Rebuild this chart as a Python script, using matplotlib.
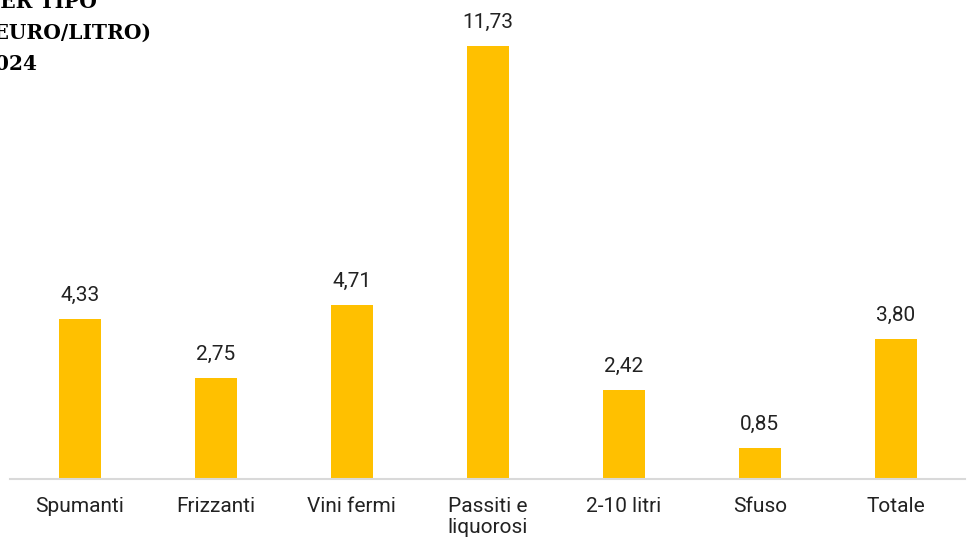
import matplotlib.pyplot as plt

categorie = ['Spumanti', 'Frizzanti', 'Vini fermi', 'Passiti e\nliquorosi',
             '2-10 litri', 'Sfuso', 'Totale']
prezzi = [4.33, 2.75, 4.71, 11.73, 2.42, 0.85, 3.80]
etichette = ['4,33', '2,75', '4,71', '11,73', '2,42', '0,85', '3,80']

plt.rcParams['font.family'] = ['Roboto', 'DejaVu Sans']

fig = plt.figure(figsize=(9.77, 5.44), dpi=100)
ax = fig.add_axes([10 / 977, 1 - 479 / 544, 955 / 977, 479 / 544])

x = range(len(categorie))
ax.bar(x, prezzi, width=0.31, color='#FFC000', zorder=2)

for xi, v, lab in zip(x, prezzi, etichette):
    ax.annotate(lab, (xi, v), xytext=(0, 10), textcoords='offset points',
                ha='center', va='bottom', fontsize=15, color='#222222')

ax.set_xlim(-0.515, 6.51)
ax.set_ylim(0, 479 / 36.9)
ax.set_xticks(list(x))
ax.set_xticklabels(categorie, fontsize=15, color='#222222', linespacing=1.15)
ax.tick_params(axis='x', length=0, pad=13)
ax.set_yticks([])

for s in ['top', 'left', 'right']:
    ax.spines[s].set_visible(False)
ax.spines['bottom'].set_color('#d9d9d9')
ax.spines['bottom'].set_linewidth(1.5)

# titolo tagliato sul bordo sinistro
titolo = dict(fontsize=14.5, fontweight='bold', family='DejaVu Serif',
              ha='right', va='center', color='black')
fig.text(97 / 977, 1 - 2 / 544, 'PREZZI MEDI PER TIPO', **titolo)
fig.text(151 / 977, 1 - 33 / 544, '(EURO/LITRO)', **titolo)
fig.text(38 / 977, 1 - 64 / 544, '2024', **titolo)

plt.savefig('out.png', dpi=100)
